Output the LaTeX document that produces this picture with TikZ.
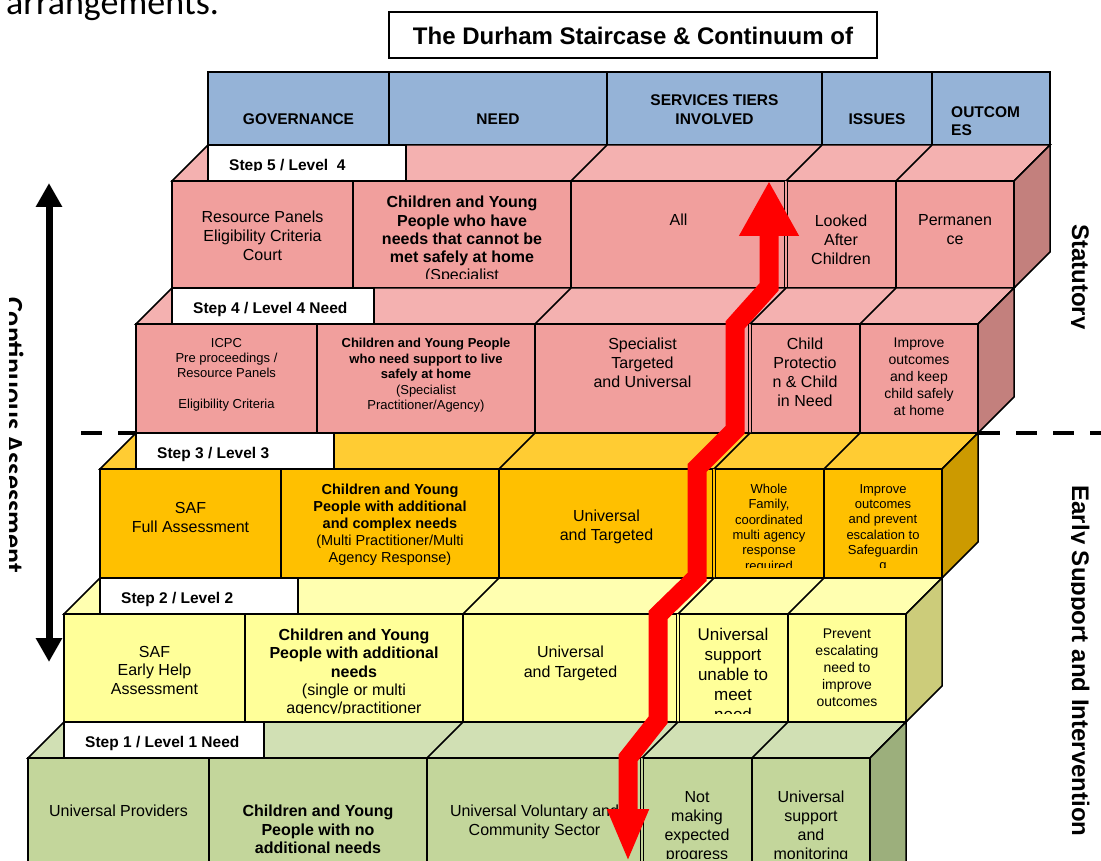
\documentclass[tikz,border=0pt]{standalone}
\usepackage{fontspec}
\setmainfont{Liberation Sans}
\newfontfamily\calfont{Carlito}
\usetikzlibrary{arrows.meta}
\definecolor{hdrblue}{HTML}{95B3D7}
\definecolor{pinkfront}{HTML}{F19F9D}
\definecolor{pinktop}{HTML}{F4B1B0}
\definecolor{pinkside}{HTML}{C3807D}
\definecolor{orgfront}{HTML}{FFC000}
\definecolor{orgtop}{HTML}{FFCC33}
\definecolor{orgside}{HTML}{CC9A00}
\definecolor{ylwfront}{HTML}{FFFF99}
\definecolor{ylwtop}{HTML}{FFFFB0}
\definecolor{ylwside}{HTML}{CCCC7A}
\definecolor{grnfront}{HTML}{C3D69B}
\definecolor{grntop}{HTML}{D1E0B4}
\definecolor{grnside}{HTML}{9CAF7C}

\begin{document}
\begin{tikzpicture}[x=1pt,y=-1pt,
  face/.style={line width=1.5pt},
  split/.style={line width=1.3pt,double distance=2pt},
  stepbox/.style={draw,fill=white,line width=1.5pt},
  steptext/.style={anchor=base west,inner sep=0pt,font=\bfseries\fontsize{15.5}{18}\selectfont},
  celltext/.style={anchor=north,align=center,inner sep=0pt,font=\fontsize{16}{18.7}\selectfont},
  hdrtext/.style={align=center,inner sep=0pt,font=\bfseries\fontsize{15.5}{19}\selectfont},
  sidetext/.style={rotate=-90,anchor=base,inner sep=0pt,font=\bfseries\fontsize{24}{28}\selectfont},
  splitline/.style={line width=4pt,dash pattern=on 21pt off 16pt}]
\useasboundingbox (0,0) rectangle (1101,861);

% text running in from above
\node[anchor=base west,inner sep=0pt,font=\calfont\fontsize{36}{40}\selectfont] (arr) at (6,15) {arrangements.};

% title
\draw[fill=white,line width=1.5pt] (389,12) rectangle (877,58);
\node[font=\bfseries\fontsize{24}{28}\selectfont] (title) at (633,36) {The Durham Staircase \& Continuum of};

% statutory / early help split
\draw[splitline] (81,433) -- (136,433);
\draw[splitline] (979,433) -- (1101,433);

% header row
\draw[face,fill=hdrblue] (208,72) rectangle (1050,145);
\draw[face] (389,72) -- (389,145) (607,72) -- (607,145) (822,72) -- (822,145) (932,72) -- (932,145);
\node[hdrtext] (hgov) at (298.5,119) {GOVERNANCE};
\node[hdrtext] (hneed) at (498,119) {NEED};
\node[hdrtext,anchor=north] (hserv) at (714.5,94.5) {SERVICES TIERS\\INVOLVED};
\node[hdrtext] (hiss) at (877,119) {ISSUES};
\node[hdrtext,anchor=north west,align=left,font=\bfseries\fontsize{15.5}{18}\selectfont] (hout) at (951,106) {OUTCOM\\ES};

% step 5
\draw[face,fill=pinktop] (172,181) -- (208,145) -- (1050,145) -- (1014,181) -- cycle;
\draw[face,fill=pinkside] (1014,181) -- (1050,145) -- (1050,252) -- (1014,288) -- cycle;
\draw[face,fill=pinkfront] (172,181) rectangle (1014,288);
\draw[face] (353,181) -- (353,288) (571,181) -- (571,288) (896,181) -- (896,288);
\draw[split,double=pinkfront] (786,181) -- (786,288);
\draw[face] (571,181) -- (607,145) (786,181) -- (822,145) (896,181) -- (932,145);
\draw[stepbox] (208,145) rectangle (406,181);
\begin{scope}
\clip (208,145) rectangle (406,171);
\node[steptext] (step5) at (229,170.5) {Step 5 / Level\ \ 4};
\end{scope}
\begin{scope}
\clip (172,181) rectangle (1014,279);
\node[celltext] (gov5) at (262.5,211) {Resource Panels\\Eligibility Criteria\\Court};
\node[celltext,font=\fontsize{16}{18.3}\selectfont] (need5) at (462,196) {\textbf{Children and Young}\\\textbf{People who have}\\\textbf{needs that cannot be}\\\textbf{met safely at home}\\(Specialist};
\node[celltext] (serv5) at (678.5,214) {All};
\node[celltext] (iss5) at (841,215) {Looked\\After\\Children};
\node[celltext,font=\fontsize{16}{19}\selectfont] (out5) at (955,214) {Permanen\\ce};
\end{scope}

% step 4
\draw[face,fill=pinktop] (136,324) -- (172,288) -- (1014,288) -- (978,324) -- cycle;
\draw[face,fill=pinkside] (978,324) -- (1014,288) -- (1014,397) -- (978,433) -- cycle;
\draw[face,fill=pinkfront] (136,324) rectangle (978,433);
\draw[face] (317,324) -- (317,433) (535,324) -- (535,433) (860,324) -- (860,433);
\draw[split,double=pinkfront] (750,324) -- (750,433);
\draw[face] (535,324) -- (571,288) (750,324) -- (786,288) (860,324) -- (896,288);
\draw[stepbox] (172,288) rectangle (374,324);
\node[steptext] (step4) at (193,313.5) {Step 4 / Level 4 Need};
\node[celltext,font=\fontsize{13}{15.3}\selectfont] (gov4) at (226.5,338) {ICPC\\Pre proceedings /\\Resource Panels\\[15.3pt]Eligibility Criteria};
\node[celltext,font=\fontsize{13}{15.5}\selectfont] (need4) at (426,338) {\textbf{Children and Young People}\\\textbf{who need support to live}\\\textbf{safely at home}\\(Specialist\\Practitioner/Agency)};
\node[celltext,font=\fontsize{16}{19}\selectfont] (serv4) at (642.5,338) {Specialist\\Targeted\\and Universal};
\node[celltext,font=\fontsize{16}{18.8}\selectfont] (iss4) at (805,338) {Child\\Protectio\\n \& Child\\in Need};
\node[celltext,font=\fontsize{14}{17}\selectfont] (out4) at (919,338) {Improve\\outcomes\\and keep\\child safely\\at home};

% step 3
\draw[face,fill=orgtop] (100,469) -- (136,433) -- (978,433) -- (942,469) -- cycle;
\draw[face,fill=orgside] (942,469) -- (978,433) -- (978,542) -- (942,578) -- cycle;
\draw[face,fill=orgfront] (100,469) rectangle (942,578);
\draw[face] (281,469) -- (281,578) (499,469) -- (499,578) (824,469) -- (824,578);
\draw[split,double=orgfront] (714,469) -- (714,578);
\draw[face] (499,469) -- (535,433) (714,469) -- (750,433) (824,469) -- (860,433);
\draw[stepbox] (136,433) rectangle (334,469);
\node[steptext] (step3) at (157,458.5) {Step 3 / Level 3};
\begin{scope}
\clip (100,469) rectangle (942,567);
\node[celltext,font=\fontsize{16}{19}\selectfont] (gov3) at (190.5,502) {SAF\\Full Assessment};
\node[celltext,font=\fontsize{14.5}{17}\selectfont] (need3) at (390,484) {\textbf{Children and Young}\\\textbf{People with additional}\\\textbf{and complex needs}\\(Multi Practitioner/Multi\\Agency Response)};
\node[celltext,font=\fontsize{16}{19}\selectfont] (serv3) at (606.5,510) {Universal\\and Targeted};
\node[celltext,font=\fontsize{13}{15.3}\selectfont] (iss3) at (769,484) {Whole\\Family,\\coordinated\\multi agency\\response\\required};
\node[celltext,font=\fontsize{13}{15.3}\selectfont] (out3) at (883,484) {Improve\\outcomes\\and prevent\\escalation to\\Safeguardin\\g};
\end{scope}

% step 2
\draw[face,fill=ylwtop] (64,614) -- (100,578) -- (942,578) -- (906,614) -- cycle;
\draw[face,fill=ylwside] (906,614) -- (942,578) -- (942,686) -- (906,722) -- cycle;
\draw[face,fill=ylwfront] (64,614) rectangle (906,722);
\draw[face] (245,614) -- (245,722) (463,614) -- (463,722) (788,614) -- (788,722);
\draw[split,double=ylwfront] (678,614) -- (678,722);
\draw[face] (463,614) -- (499,578) (678,614) -- (714,578) (788,614) -- (824,578);
\draw[stepbox] (100,578) rectangle (298,614);
\node[steptext] (step2) at (121,603.5) {Step 2 / Level 2};
\begin{scope}
\clip (64,614) rectangle (906,713);
\node[celltext,font=\fontsize{16}{18.5}\selectfont] (gov2) at (154.5,646) {SAF\\Early Help\\Assessment};
\node[celltext,font=\fontsize{16}{18.2}\selectfont] (need2) at (354,629) {\textbf{Children and Young}\\\textbf{People with additional}\\\textbf{needs}\\(single or multi\\agency/practitioner};
\node[celltext,font=\fontsize{16}{19.5}\selectfont] (serv2) at (570.5,646) {Universal\\and Targeted};
\node[celltext,font=\fontsize{17}{20}\selectfont] (iss2) at (733,628) {Universal\\support\\unable to\\meet\\need};
\node[celltext,font=\fontsize{14}{17}\selectfont] (out2) at (847,629) {Prevent\\escalating\\need to\\improve\\outcomes};
\end{scope}

% step 1
\draw[face,fill=grntop] (28,758) -- (64,722) -- (906,722) -- (870,758) -- cycle;
\draw[face,fill=grnside] (870,758) -- (906,722) -- (906,864) -- (870,900) -- cycle;
\draw[face,fill=grnfront] (28,758) rectangle (870,900);
\draw[face] (209,758) -- (209,900) (427,758) -- (427,900) (752,758) -- (752,900);
\draw[split,double=grnfront] (642,758) -- (642,900);
\draw[face] (427,758) -- (463,722) (642,758) -- (678,722) (752,758) -- (788,722);
\draw[stepbox] (64,722) rectangle (264,758);
\node[steptext] (step1) at (85,747.5) {Step 1 / Level 1 Need};
\begin{scope}
\clip (28,758) rectangle (870,858);
\node[celltext] (gov1) at (118.5,805) {Universal Providers};
\node[celltext,font=\fontsize{16}{18.5}\selectfont] (need1) at (318,805) {\textbf{Children and Young}\\\textbf{People with no}\\\textbf{additional needs}};
\node[celltext,font=\fontsize{16}{19}\selectfont] (serv1) at (534.5,805) {Universal Voluntary and\\Community Sector};
\node[celltext,font=\fontsize{16}{19}\selectfont] (iss1) at (697,791) {Not\\making\\expected\\progress};
\node[celltext,font=\fontsize{16}{19}\selectfont] (out1) at (811,791) {Universal\\support\\and\\monitoring};
\end{scope}

% pathway through the staircase
\coordinate (rbot) at (628,862);
\coordinate (rb1) at (628,758);
\coordinate (rb2) at (658,720);
\coordinate (rb3) at (658,615);
\coordinate (rb4) at (697,577);
\coordinate (rb5) at (697,468);
\coordinate (rb6) at (735,430);
\coordinate (rb7) at (735,325);
\coordinate (rb8) at (769,287);
\coordinate (rtop) at (769,181);
\draw[red,line width=19pt,{Triangle[width=38pt,length=53pt]}-{Triangle[width=56pt,length=55pt]}]
  (rbot) -- (rb1) -- (rb2) -- (rb3) -- (rb4) -- (rb5) -- (rb6) -- (rb7) -- (rb8) -- (rtop);

% continuous assessment
\coordinate (atop) at (49,183);
\coordinate (abot) at (49,662);
\draw[line width=7pt,{Triangle[width=25pt,length=24pt]}-{Triangle[width=25pt,length=24pt]}] (atop) -- (abot);
\begin{scope}
\clip (9,150) rectangle (40,720);
\node[rotate=-90,anchor=base,inner sep=0pt,font=\calfont\bfseries\fontsize{28}{32}\selectfont] (contass) at (4,435) {Continuous Assessment};
\end{scope}

\begin{scope}
\clip (1071,150) rectangle (1101,861);
\node[sidetext] (stat) at (1072,277) {Statutory};
\node[sidetext] (early) at (1072,661) {Early Support and Intervention};
\end{scope}
\end{tikzpicture}
\end{document}
